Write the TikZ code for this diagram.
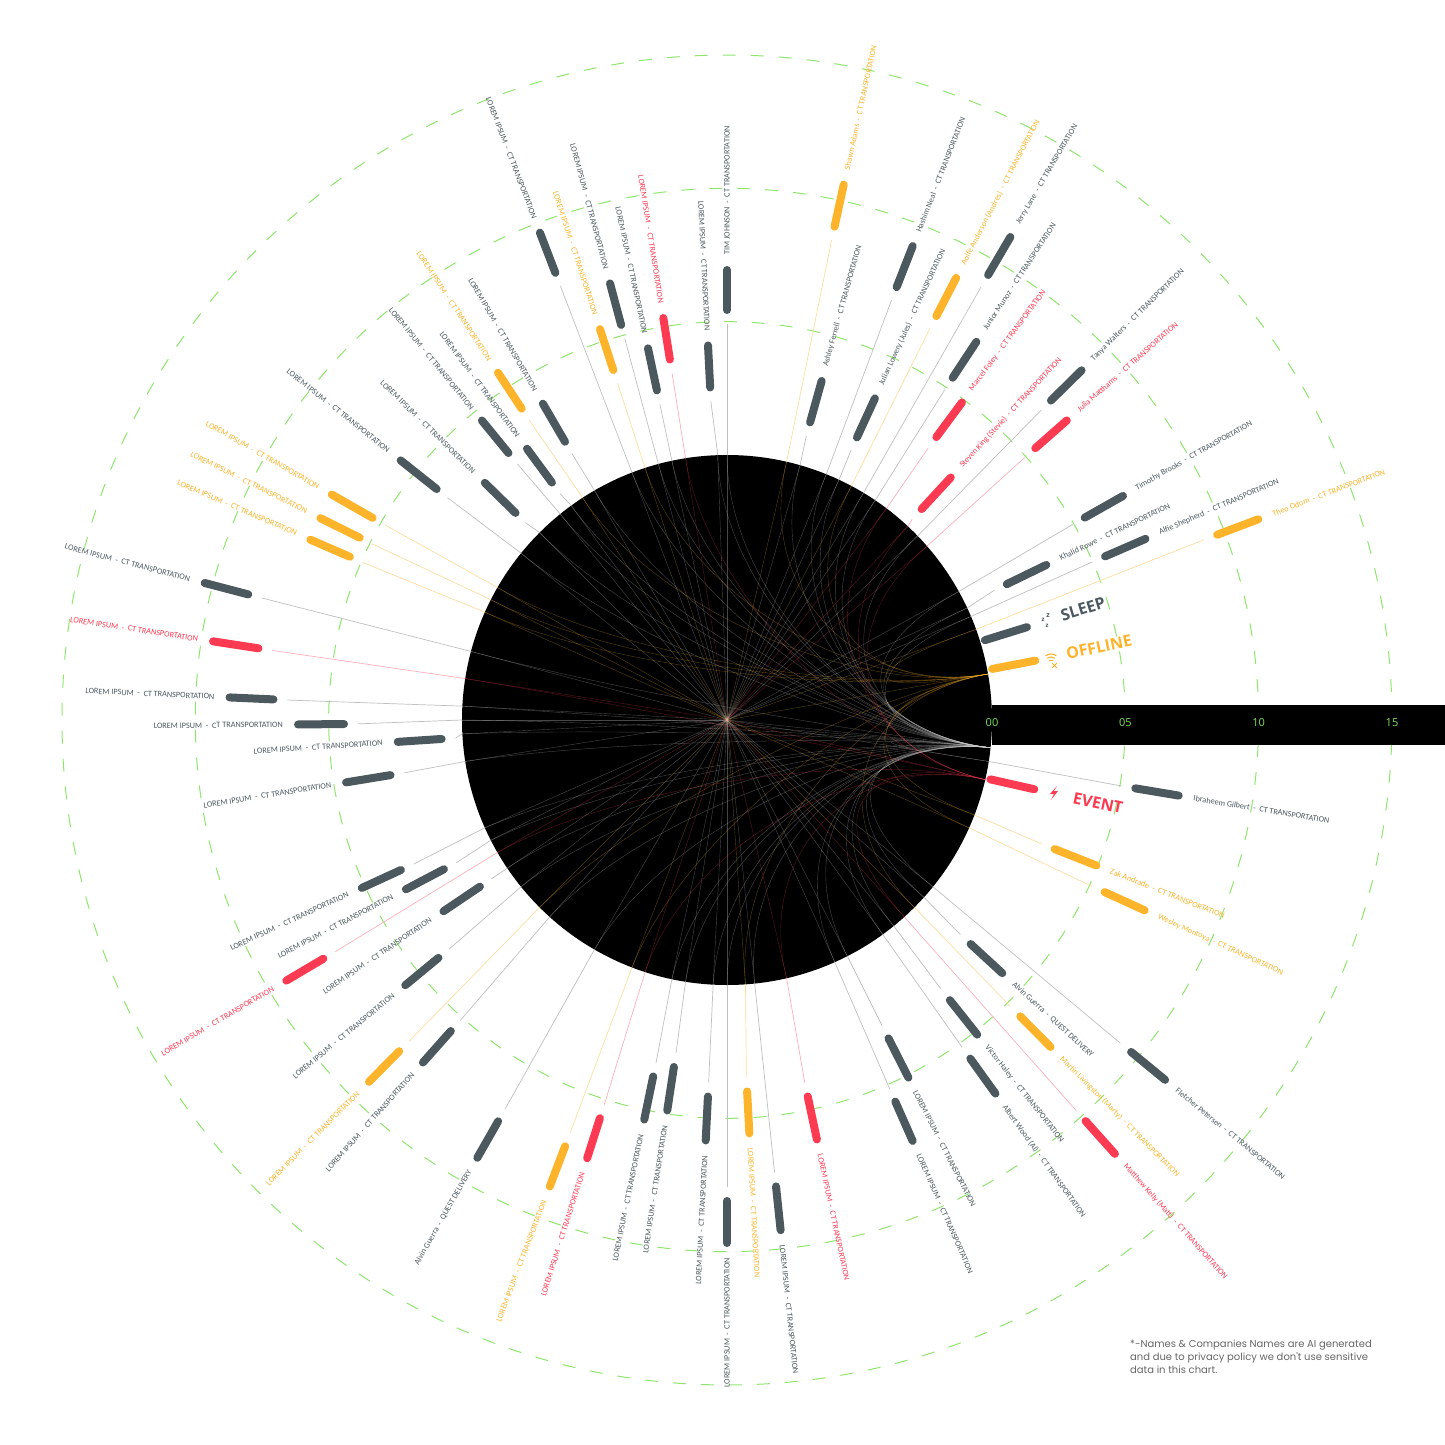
\documentclass[tikz,border=0pt]{standalone}
\usepackage{fontspec}
\setmainfont{Carlito}
\newfontfamily\headfont{Open Sans}
\newfontfamily\notefont{Poppins}
\usepackage{tikz}
\usetikzlibrary{calc}
\definecolor{cg}{HTML}{4B585E}
\definecolor{cy}{HTML}{FDB42A}
\definecolor{cr}{HTML}{FC3A52}
\definecolor{ringgreen}{HTML}{8FE66C}
\definecolor{tickgreen}{HTML}{7BE35A}
\colorlet{lncg}{black!25}
\colorlet{lncy}{cy!45}
\colorlet{lncr}{cr!40}
\colorlet{incg}{white!80!black}
\colorlet{incy}{cy}
\colorlet{incr}{cr}

\begin{document}
\begin{tikzpicture}[x=1pt,y=1pt]
	\def\rc{265}
	\def\gap{14}
	\tikzset{
		bar/.style={draw=#1, line width=8pt, line cap=round},
		conn/.style={draw=ln#1, line width=0.7pt},
		web/.style={draw=in#1, line width=0.4pt, opacity=0.35},
		ring/.style={draw=ringgreen, line width=1pt, dash pattern=on 13pt off 15pt},
		lbl/.style={text=#1, font=\fontsize{8.2}{9}\selectfont, inner sep=0pt},
		tick/.style={text=tickgreen, font=\headfont\fontsize{11}{12}\selectfont, inner sep=0pt},
		legendtxt/.style={text=#1, font=\headfont\bfseries\fontsize{16}{18}\selectfont, inner sep=0pt}
	}
	\useasboundingbox (-727,-724) rectangle (718,720);
	% guide rings
	\foreach \k in {1,2,3}
		\draw[ring] (0,0) circle ({\rc+133.33*\k});
	\node[circle, fill=black, minimum size=2*\rc, inner sep=0pt] (disc) at (0,0) {};
	\coordinate (o) at (0,0);
	\coordinate (hcg) at (disc.-6.7);
	\coordinate (hcy) at (disc.10.8);
	\coordinate (hcr) at (disc.-13);
	\foreach \h in {cg,cy,cr}
		\draw[web=\h] (o) -- (h\h);
	% drivers: angle / inner r / outer r / colour / name / company
	\foreach \ang/\rin/\rout/\col/\who/\firm [count=\i] in {
		-86.9/372/414/cy/LOREM IPSUM/CT TRANSPORTATION,
		-84.0/469/513/cg/LOREM IPSUM/CT TRANSPORTATION,
		-77.9/385/429/cr/LOREM IPSUM/CT TRANSPORTATION,
		-66.2/417/460/cg/LOREM IPSUM/CT TRANSPORTATION,
		-63.1/357/401/cg/LOREM IPSUM/CT TRANSPORTATION,
		-54.3/417/460/cg/Albert Wood (Al)/CT TRANSPORTATION,
		-51.5/358/402/cg/Victor Haley/CT TRANSPORTATION,
		-48.2/538/582/cr/Matthew Kelly (Matt)/CT TRANSPORTATION,
		-45.3/417/460/cy/Martin Livingston (Marty)/CT TRANSPORTATION,
		-42.6/331/374/cg/Alvin Guerra/QUEST DELIVERY,
		-39.4/523/567/cg/Fletcher Petersen/CT TRANSPORTATION,
		-24.5/415/459/cy/Wesley Montoya/CT TRANSPORTATION,
		-21.5/352/397/cy/Zak Andrade/CT TRANSPORTATION,
		-9.5/414/458/cg/Ibraheem Gilbert/CT TRANSPORTATION,
		20.7/524/568/cy/Theo Odom/CT TRANSPORTATION,
		23.4/412/456/cg/Alfie Shepherd/CT TRANSPORTATION,
		25.9/311/355/cg/Khalid Rowe/CT TRANSPORTATION,
		29.5/411/455/cg/Timothy Brooks/CT TRANSPORTATION,
		41.4/411/453/cr/Julia Matthams/CT TRANSPORTATION,
		44.6/455/498/cg/Tanya Walters/CT TRANSPORTATION,
		47.3/287/330/cr/Steven King (Stevie)/CT TRANSPORTATION,
		53.5/352/395/cr/Marcel Foley/CT TRANSPORTATION,
		56.6/410/453/cg/Junior Munoz/CT TRANSPORTATION,
		59.6/516/560/cg/Jerry Lane/CT TRANSPORTATION,
		62.6/455/498/cy/Aoife Anderson (Andres)/CT TRANSPORTATION,
		65.3/311/354/cg/Julian Lowery (Jules)/CT TRANSPORTATION,
		68.6/465/509/cg/Hashim Neal/CT TRANSPORTATION,
		74.4/309/352/cg/Ashley Ferrell/CT TRANSPORTATION,
		77.7/505/548/cy/Shawn Adams/CT TRANSPORTATION,
		90/410/450/cg/TIM JOHNSON/CT TRANSPORTATION,
		92.9/333/375/cg/LOREM IPSUM/CT TRANSPORTATION,
		99.0/365/407/cr/LOREM IPSUM/CT TRANSPORTATION,
		102.0/337/380/cg/LOREM IPSUM/CT TRANSPORTATION,
		105.0/409/452/cg/LOREM IPSUM/CT TRANSPORTATION,
		108.0/368/411/cy/LOREM IPSUM/CT TRANSPORTATION,
		111.0/479/522/cg/LOREM IPSUM/CT TRANSPORTATION,
		120.2/322/366/cg/LOREM IPSUM/CT TRANSPORTATION,
		123.4/373/416/cy/LOREM IPSUM/CT TRANSPORTATION,
		126.4/295/337/cg/LOREM IPSUM/CT TRANSPORTATION,
		129.3/345/387/cg/LOREM IPSUM/CT TRANSPORTATION,
		135.6/296/339/cg/LOREM IPSUM/CT TRANSPORTATION,
		141.5/371/417/cg/LOREM IPSUM/CT TRANSPORTATION,
		150.3/408/455/cy/LOREM IPSUM/CT TRANSPORTATION,
		153.6/410/454/cy/LOREM IPSUM/CT TRANSPORTATION,
		156.6/411/454/cy/LOREM IPSUM/CT TRANSPORTATION,
		165.3/495/540/cg/LOREM IPSUM/CT TRANSPORTATION,
		171.3/474/520/cr/LOREM IPSUM/CT TRANSPORTATION,
		177.4/454/498/cg/LOREM IPSUM/CT TRANSPORTATION,
		180.6/383/429/cg/LOREM IPSUM/CT TRANSPORTATION,
		183.8/286/330/cg/LOREM IPSUM/CT TRANSPORTATION,
		189.3/341/386/cg/LOREM IPSUM/CT TRANSPORTATION,
		204.7/359/402/cg/LOREM IPSUM/CT TRANSPORTATION,
		207.8/320/363/cg/LOREM IPSUM/CT TRANSPORTATION,
		210.6/469/512/cr/LOREM IPSUM/CT TRANSPORTATION,
		214.0/298/342/cg/LOREM IPSUM/CT TRANSPORTATION,
		219.5/374/417/cg/LOREM IPSUM/CT TRANSPORTATION,
		225.3/466/509/cy/LOREM IPSUM/CT TRANSPORTATION,
		228.4/416/458/cg/LOREM IPSUM/CT TRANSPORTATION,
		240.3/462/504/cg/Alvin Guerra/QUEST DELIVERY,
		249.2/456/499/cy/LOREM IPSUM/CT TRANSPORTATION,
		252.3/418/460/cr/LOREM IPSUM/CT TRANSPORTATION,
		258.3/364/408/cg/LOREM IPSUM/CT TRANSPORTATION,
		261.3/351/395/cg/LOREM IPSUM/CT TRANSPORTATION,
		267.1/377/421/cg/LOREM IPSUM/CT TRANSPORTATION,
		270/481/523/cg/LOREM IPSUM/CT TRANSPORTATION}{
		\draw[web=\col] (o) -- (disc.\ang);
		\draw[web=\col] (h\col) .. controls ($(h\col)!.5!(o)$) and (\ang:{\rc*0.5}) .. (disc.\ang);
		\draw[conn=\col] (disc.\ang) -- (\ang:{\rin-\gap});
		\draw[bar=\col] (\ang:\rin) -- (\ang:\rout);
		\pgfmathtruncatemacro\flip{\ang>90}
		\ifnum\flip=1
			\node[lbl=\col, anchor=east, rotate=\ang-180] (l\i) at (\ang:{\rout+15}) {\who\ \ -\ \ \firm};
		\else
			\node[lbl=\col, anchor=west, rotate=\ang] (l\i) at (\ang:{\rout+15}) {\who\ \ -\ \ \firm};
		\fi
	}
	% scale strip
	\node[fill=black, minimum width=453, minimum height=40, inner sep=0pt, anchor=west] (axis) at (\rc,-5) {};
	\foreach \v/\t in {0/00,5/05,10/10,15/15}
		\node[tick] (t\v) at ({\rc+26.667*\v},-3) {\t};
	% legend
	\draw[bar=cg] (17.2:270) -- (17.2:314);
	\draw[bar=cy] (10.9:270) -- (10.9:314);
	\draw[bar=cr] (-12.7:270) -- (-12.7:315);
	\node[legendtxt=cg, rotate=17] (sleep) at (356,111) {SLEEP};
	\node[legendtxt=cy, rotate=12] (offline) at (372,73) {OFFLINE};
	\node[legendtxt=cr, rotate=-12] (event) at (371,-83) {EVENT};
	\node[text=cg, font=\headfont\bfseries\fontsize{6}{6}\selectfont, inner sep=0pt] (z1) at (316,100) {z};
	\node[text=cg, font=\headfont\bfseries\fontsize{7}{7}\selectfont, inner sep=0pt] (z2) at (321,104) {z};
	\node[text=cg, font=\headfont\bfseries\fontsize{6}{6}\selectfont, inner sep=0pt] (z3) at (320,94) {z};
	\foreach \r in {3,6,9}
		\draw[cy, line width=1.1pt, line cap=round] (324,57) ++(55:\r) arc (55:125:\r);
	\draw[cy, line width=1pt] (325,52) -- (330,57) (325,57) -- (330,52);
	\fill[cr] (330,-66) -- (323,-74) -- (327,-74) -- (324,-80) -- (331,-71) -- (327,-71) -- cycle;
	% footnote
	\node[text=black!60, font=\notefont\fontsize{10}{13}\selectfont, align=left, anchor=north west, inner sep=0pt] (note) at (403,-620) {*-Names \& Companies Names are AI generated\\and due to privacy policy we don't use sensitive\\data in this chart.};
\end{tikzpicture}
\end{document}
